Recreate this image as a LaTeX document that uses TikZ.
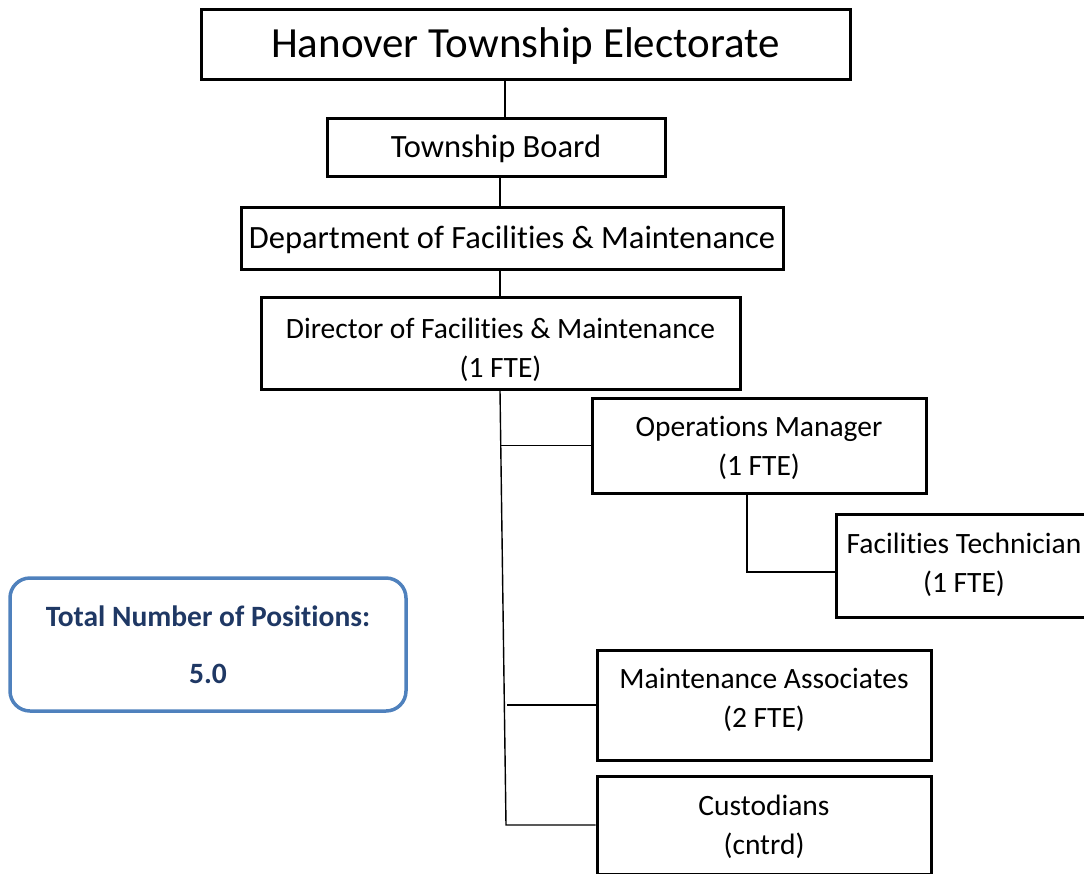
\documentclass[tikz,border=0pt]{standalone}
\usepackage{fontspec}
\setmainfont{Carlito}[Ligatures=NoCommon]
\usepackage{tikz}
\usetikzlibrary{positioning}
\definecolor{kutuMavi}{HTML}{4F81BD}
\definecolor{yaziLaci}{HTML}{1F3864}
% two lines of text with struts (top height, bottom depth)
\newcommand{\ikiSatir}[4]{\rule{0pt}{#1pt}#3\\#4\rule[-#2pt]{0pt}{0pt}}

\begin{document}
\begin{tikzpicture}[x=1pt,y=-1pt,
  box/.style={draw,line width=3pt,inner sep=0pt,align=center,font=\fontsize{29.5}{39}\selectfont},
  bigbox/.style={box,font=\fontsize{32.5}{39}\selectfont,text height=30pt,text depth=10pt},
  link/.style={line width=1.4pt}]
\useasboundingbox (0,0) rectangle (1084,873);
\clip (0,0) rectangle (1084,873);
% chain of command
\node[box,minimum width=649pt,minimum height=70pt,font=\fontsize{43}{50}\selectfont,text height=34pt,text depth=8pt] (elect) at (525.5,44) {Hanover Township Electorate};
\node[bigbox,minimum width=338pt,minimum height=58pt] (board) at (496,147) {Township Board};
\node[bigbox,minimum width=542pt,minimum height=62pt] (dept) at (512,238) {Department of Facilities \& Maintenance};
\node[box,minimum width=479pt,minimum height=92pt] (director) at (500.5,343) {\ikiSatir{39}{10}{Director of Facilities \& Maintenance}{(1 FTE)}};
% staff
\node[box,minimum width=334pt,minimum height=95pt] (ops) at (759,445.5) {\ikiSatir{30}{10}{Operations Manager}{(1 FTE)}};
\node[box,minimum width=256pt,minimum height=103pt] (tech) at (964,565.5) {\ikiSatir{24}{10}{Facilities Technician}{(1 FTE)}};
\node[box,minimum width=334pt,minimum height=110pt] (maint) at (764,705) {\ikiSatir{25}{20}{Maintenance Associates}{(2 FTE)}};
\node[box,minimum width=334pt,minimum height=98pt] (cust) at (764,825) {\ikiSatir{29}{10}{Custodians}{(cntrd)}};
% total box
\node[draw=kutuMavi,line width=3.5pt,rounded corners=20pt,minimum width=396pt,minimum height=133pt,
  align=center,text=yaziLaci,font=\fontsize{29.5}{57}\selectfont\bfseries] (total) at (208,644.5)
  {Total Number of Positions:\\5.0};
% connectors
\draw[link] (elect.south -| 505,0) -- (board.north -| 505,0);
\draw[link] (board.south -| 500,0) -- (dept.north -| 500,0);
\draw[link] (dept.south -| 500,0) -- (director.north -| 500,0);
\coordinate (trunkEnd) at (506,825);
\draw[link] (director.south -| 500,0) -- (trunkEnd) -- (cust.west);
\draw[link] (ops.west) -- (ops.west -| director.south);
\draw[link] (maint.west) -- ++(-89,0);
\draw[link] (ops.south -| 747,0) |- ([yshift=-6.5pt]tech.west);
\end{tikzpicture}
\end{document}
